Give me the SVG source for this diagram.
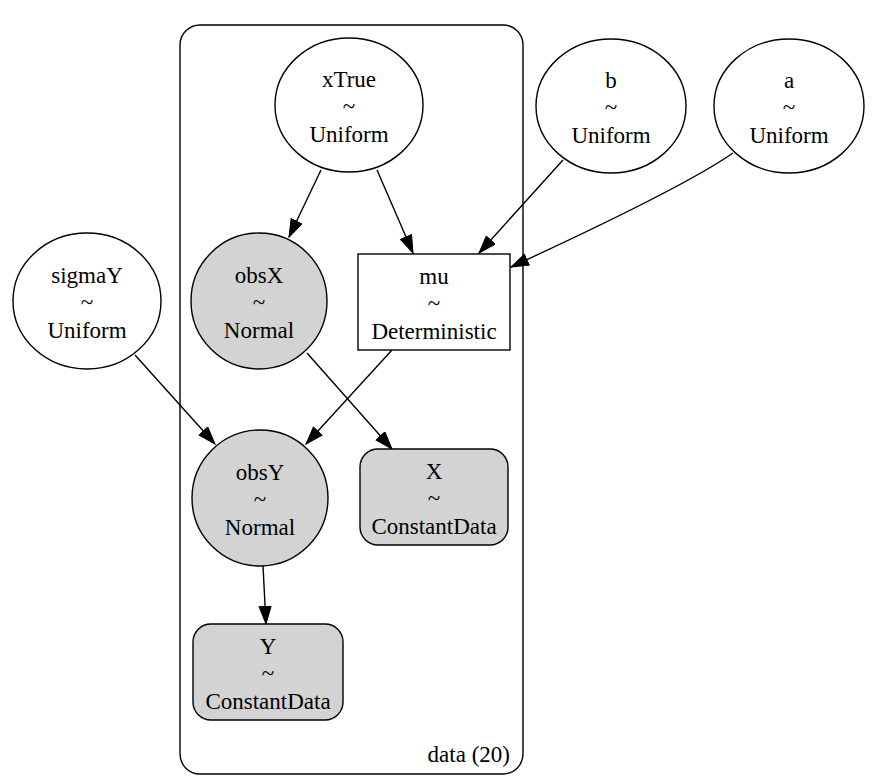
<svg xmlns="http://www.w3.org/2000/svg" width="876" height="782" viewBox="0 0 876 782" font-family="Liberation Serif, Times New Roman, serif" font-size="23">
<style>
text{fill:#000;text-anchor:middle}
.n{stroke:#000;stroke-width:1.4;fill:#fff}
.g{fill:#d3d3d3}
.e{stroke:#000;stroke-width:1.4;fill:none;marker-end:url(#ah)}
</style>
<defs>
<marker id="ah" markerUnits="userSpaceOnUse" markerWidth="20" markerHeight="14" refX="18" refY="6.5" orient="auto">
<path d="M0.5,0.5 L18,6.5 L0.5,12.5 Z" fill="#000" stroke="#000" stroke-width="1"/>
</marker>
</defs>
<g id="cluster_data">
<rect x="180" y="25" width="343" height="749" rx="20" fill="none" stroke="#000" stroke-width="1.4"/>
<text x="510" y="762" text-anchor="end" style="text-anchor:end">data (20)</text>
</g>
<g id="edges">
<path class="e" d="M321,170 L289,237"/>
<path class="e" d="M377,170 L413,253"/>
<path class="e" d="M563,160 L479,253"/>
<path class="e" d="M733,153 C690,183 600,226 511,267"/>
<path class="e" d="M135,355 L215,444"/>
<path class="e" d="M392,350 L306,444"/>
<path class="e" d="M307,353 L392,449"/>
<path class="e" d="M263,566 L266,624"/>
</g>
<g id="xTrue">
<ellipse class="n" cx="349" cy="105" rx="74" ry="67"/>
<text x="349" y="87">xTrue</text><text x="349" y="114">~</text><text x="349" y="142">Uniform</text>
</g>
<g id="b">
<ellipse class="n" cx="611" cy="106" rx="75" ry="67"/>
<text x="611" y="88">b</text><text x="611" y="115">~</text><text x="611" y="143">Uniform</text>
</g>
<g id="a">
<ellipse class="n" cx="789" cy="106" rx="75" ry="67"/>
<text x="789" y="88">a</text><text x="789" y="115">~</text><text x="789" y="143">Uniform</text>
</g>
<g id="sigmaY">
<ellipse class="n" cx="87" cy="301" rx="74" ry="68"/>
<text x="87" y="283">sigmaY</text><text x="87" y="310">~</text><text x="87" y="338">Uniform</text>
</g>
<g id="obsX">
<circle class="n g" cx="259" cy="301" r="68"/>
<text x="259" y="283">obsX</text><text x="259" y="310">~</text><text x="259" y="338">Normal</text>
</g>
<g id="mu">
<rect class="n" x="358" y="254" width="152" height="96"/>
<text x="434" y="284">mu</text><text x="434" y="311">~</text><text x="434" y="339">Deterministic</text>
</g>
<g id="obsY">
<circle class="n g" cx="260" cy="498" r="68"/>
<text x="260" y="480">obsY</text><text x="260" y="507">~</text><text x="260" y="535">Normal</text>
</g>
<g id="X">
<rect class="n g" x="360" y="449" width="148" height="96" rx="18"/>
<text x="434" y="479">X</text><text x="434" y="506">~</text><text x="434" y="534">ConstantData</text>
</g>
<g id="Y">
<rect class="n g" x="193" y="624" width="150" height="96" rx="18"/>
<text x="268" y="654">Y</text><text x="268" y="681">~</text><text x="268" y="709">ConstantData</text>
</g>
</svg>
